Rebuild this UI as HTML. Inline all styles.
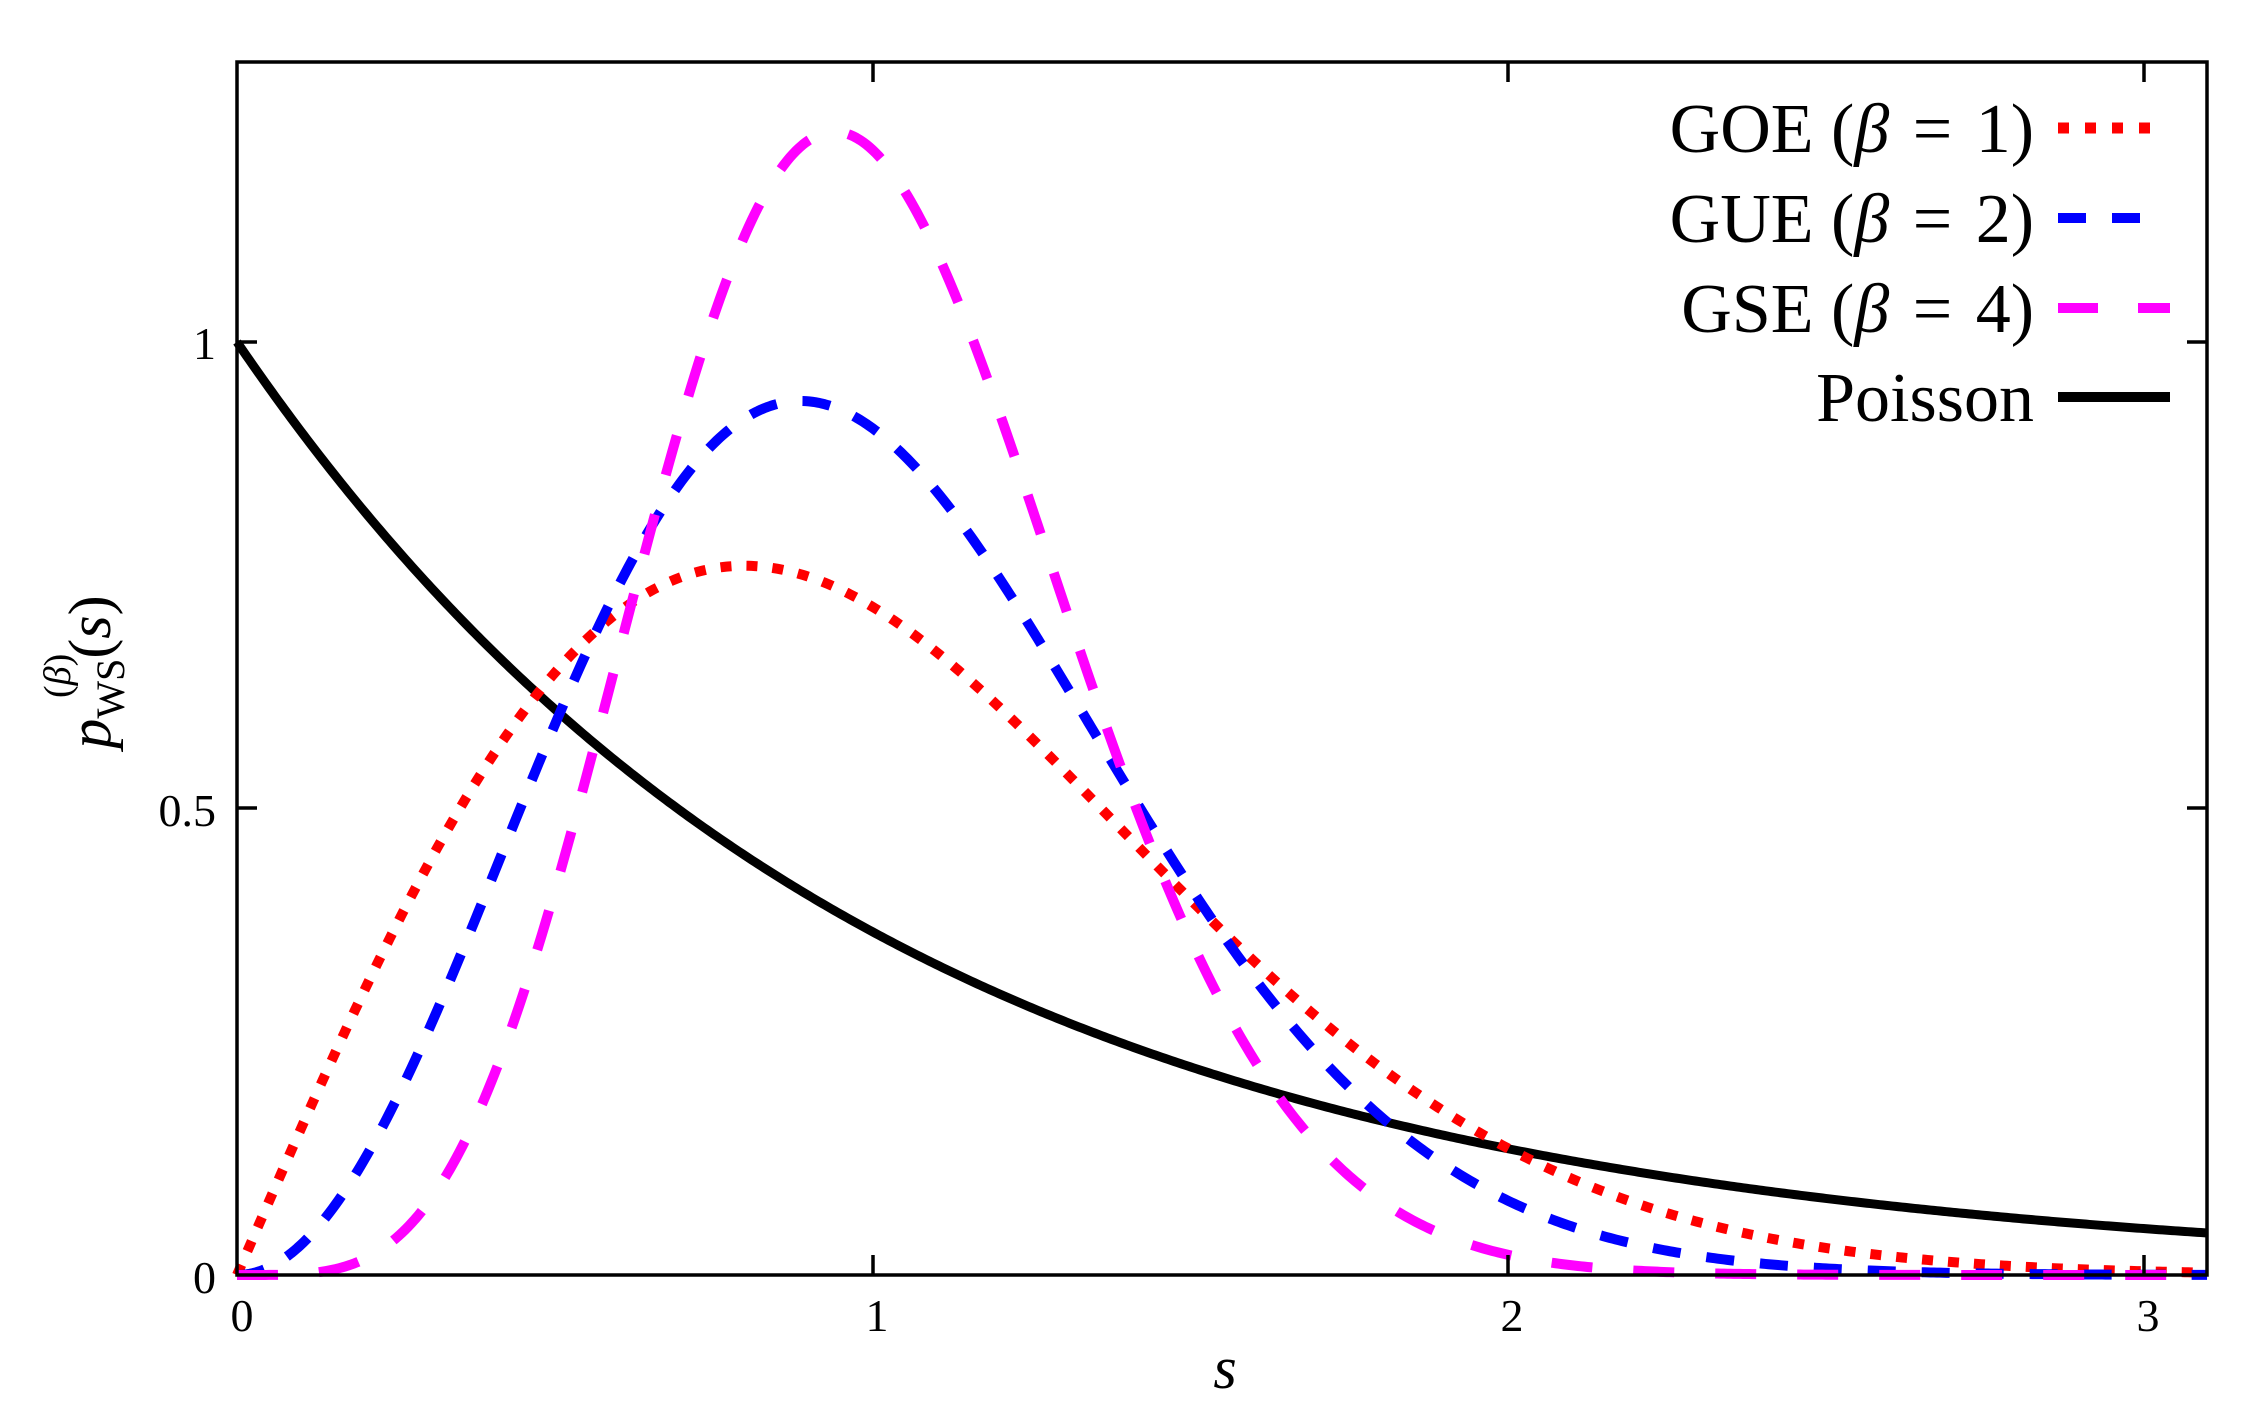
<!DOCTYPE html>
<html><head><meta charset="utf-8"><style>
html,body{margin:0;padding:0;background:#fff;}
svg{display:block;}
text{font-family:"Liberation Serif",serif;fill:#000;}
</style></head><body>
<svg id="s" width="2264" height="1416" viewBox="0 0 2264 1416" xmlns="http://www.w3.org/2000/svg">
<g id="curves" fill="none" stroke-linejoin="round"></g>
<rect x="237" y="62" width="1970" height="1213" fill="none" stroke="#000" stroke-width="3.5"/>
<g stroke="#000" stroke-width="3.5">
<line x1="873" y1="1275" x2="873" y2="1255"/><line x1="1508" y1="1275" x2="1508" y2="1255"/><line x1="2144" y1="1275" x2="2144" y2="1255"/>
<line x1="873" y1="62" x2="873" y2="82"/><line x1="1508" y1="62" x2="1508" y2="82"/><line x1="2144" y1="62" x2="2144" y2="82"/>
<line x1="237" y1="808" x2="257" y2="808"/><line x1="237" y1="342" x2="257" y2="342"/>
<line x1="2207" y1="808" x2="2187" y2="808"/><line x1="2207" y1="342" x2="2187" y2="342"/>
</g>
<g font-size="46" text-anchor="end">
<text x="216" y="1293">0</text><text x="216" y="826">0.5</text><text x="216" y="359">1</text>
</g>
<g font-size="46" text-anchor="middle">
<text x="242" y="1331">0</text><text x="877" y="1331">1</text><text x="1512" y="1331">2</text><text x="2148" y="1331">3</text>
</g>
<text x="1225" y="1388" font-size="60" font-style="italic" text-anchor="middle">s</text>
<g transform="translate(110,672) rotate(-90)">
<text text-anchor="middle" font-size="60"><tspan font-style="italic">p</tspan><tspan font-size="40" dy="14">WS</tspan><tspan dy="-14">(</tspan><tspan font-style="italic">s</tspan>)</text>
<text x="-26" y="-40" font-size="38">(<tspan font-style="italic">β</tspan>)</text>
</g>
<g font-size="70" text-anchor="end">
<text x="2034" y="152">GOE (<tspan font-style="italic">β</tspan> <tspan dx="6">=</tspan> <tspan dx="6">1)</tspan></text>
<text x="2034" y="242">GUE (<tspan font-style="italic">β</tspan> <tspan dx="6">=</tspan> <tspan dx="6">2)</tspan></text>
<text x="2034" y="332">GSE (<tspan font-style="italic">β</tspan> <tspan dx="6">=</tspan> <tspan dx="6">4)</tspan></text>
<text x="2034" y="421">Poisson</text>
</g>
<g fill="none">
<line x1="2058" y1="128" x2="2165" y2="128" stroke="#ff0000" stroke-width="11" stroke-dasharray="11 16"/>
<line x1="2058" y1="218" x2="2165" y2="218" stroke="#0000ff" stroke-width="10" stroke-dasharray="28 26"/>
<line x1="2058" y1="308" x2="2170" y2="308" stroke="#ff00ff" stroke-width="10" stroke-dasharray="40 40"/>
<line x1="2058" y1="397" x2="2170" y2="397" stroke="#000" stroke-width="10"/>
</g>
</svg>
<script>
(function(){
var X0=237,UX=635.5,Y0=1275,UY=933;
function path(f){var d="";for(var i=0;i<=620;i++){var s=3.1*i/620;var y=f(s);d+=(i?"L":"M")+(X0+s*UX).toFixed(2)+" "+(Y0-y*UY).toFixed(2);}return d;}
var P=Math.PI;
var fs=[
[function(s){return Math.exp(-s);},"#000",9,""],
[function(s){return P/2*s*Math.exp(-P*s*s/4);},"#ff0000",10,"11 15"],
[function(s){return 32/(P*P)*s*s*Math.exp(-4*s*s/P);},"#0000ff",10,"28 26"],
[function(s){return Math.pow(2,18)/(729*P*P*P)*Math.pow(s,4)*Math.exp(-64*s*s/(9*P));},"#ff00ff",10,"41 41"]
];
var g=document.getElementById("curves"),ns="http://www.w3.org/2000/svg";
fs.forEach(function(c){var p=document.createElementNS(ns,"path");p.setAttribute("d",path(c[0]));p.setAttribute("stroke",c[1]);p.setAttribute("stroke-width",c[2]);if(c[3])p.setAttribute("stroke-dasharray",c[3]);g.appendChild(p);});
})();
</script>
</body></html>
